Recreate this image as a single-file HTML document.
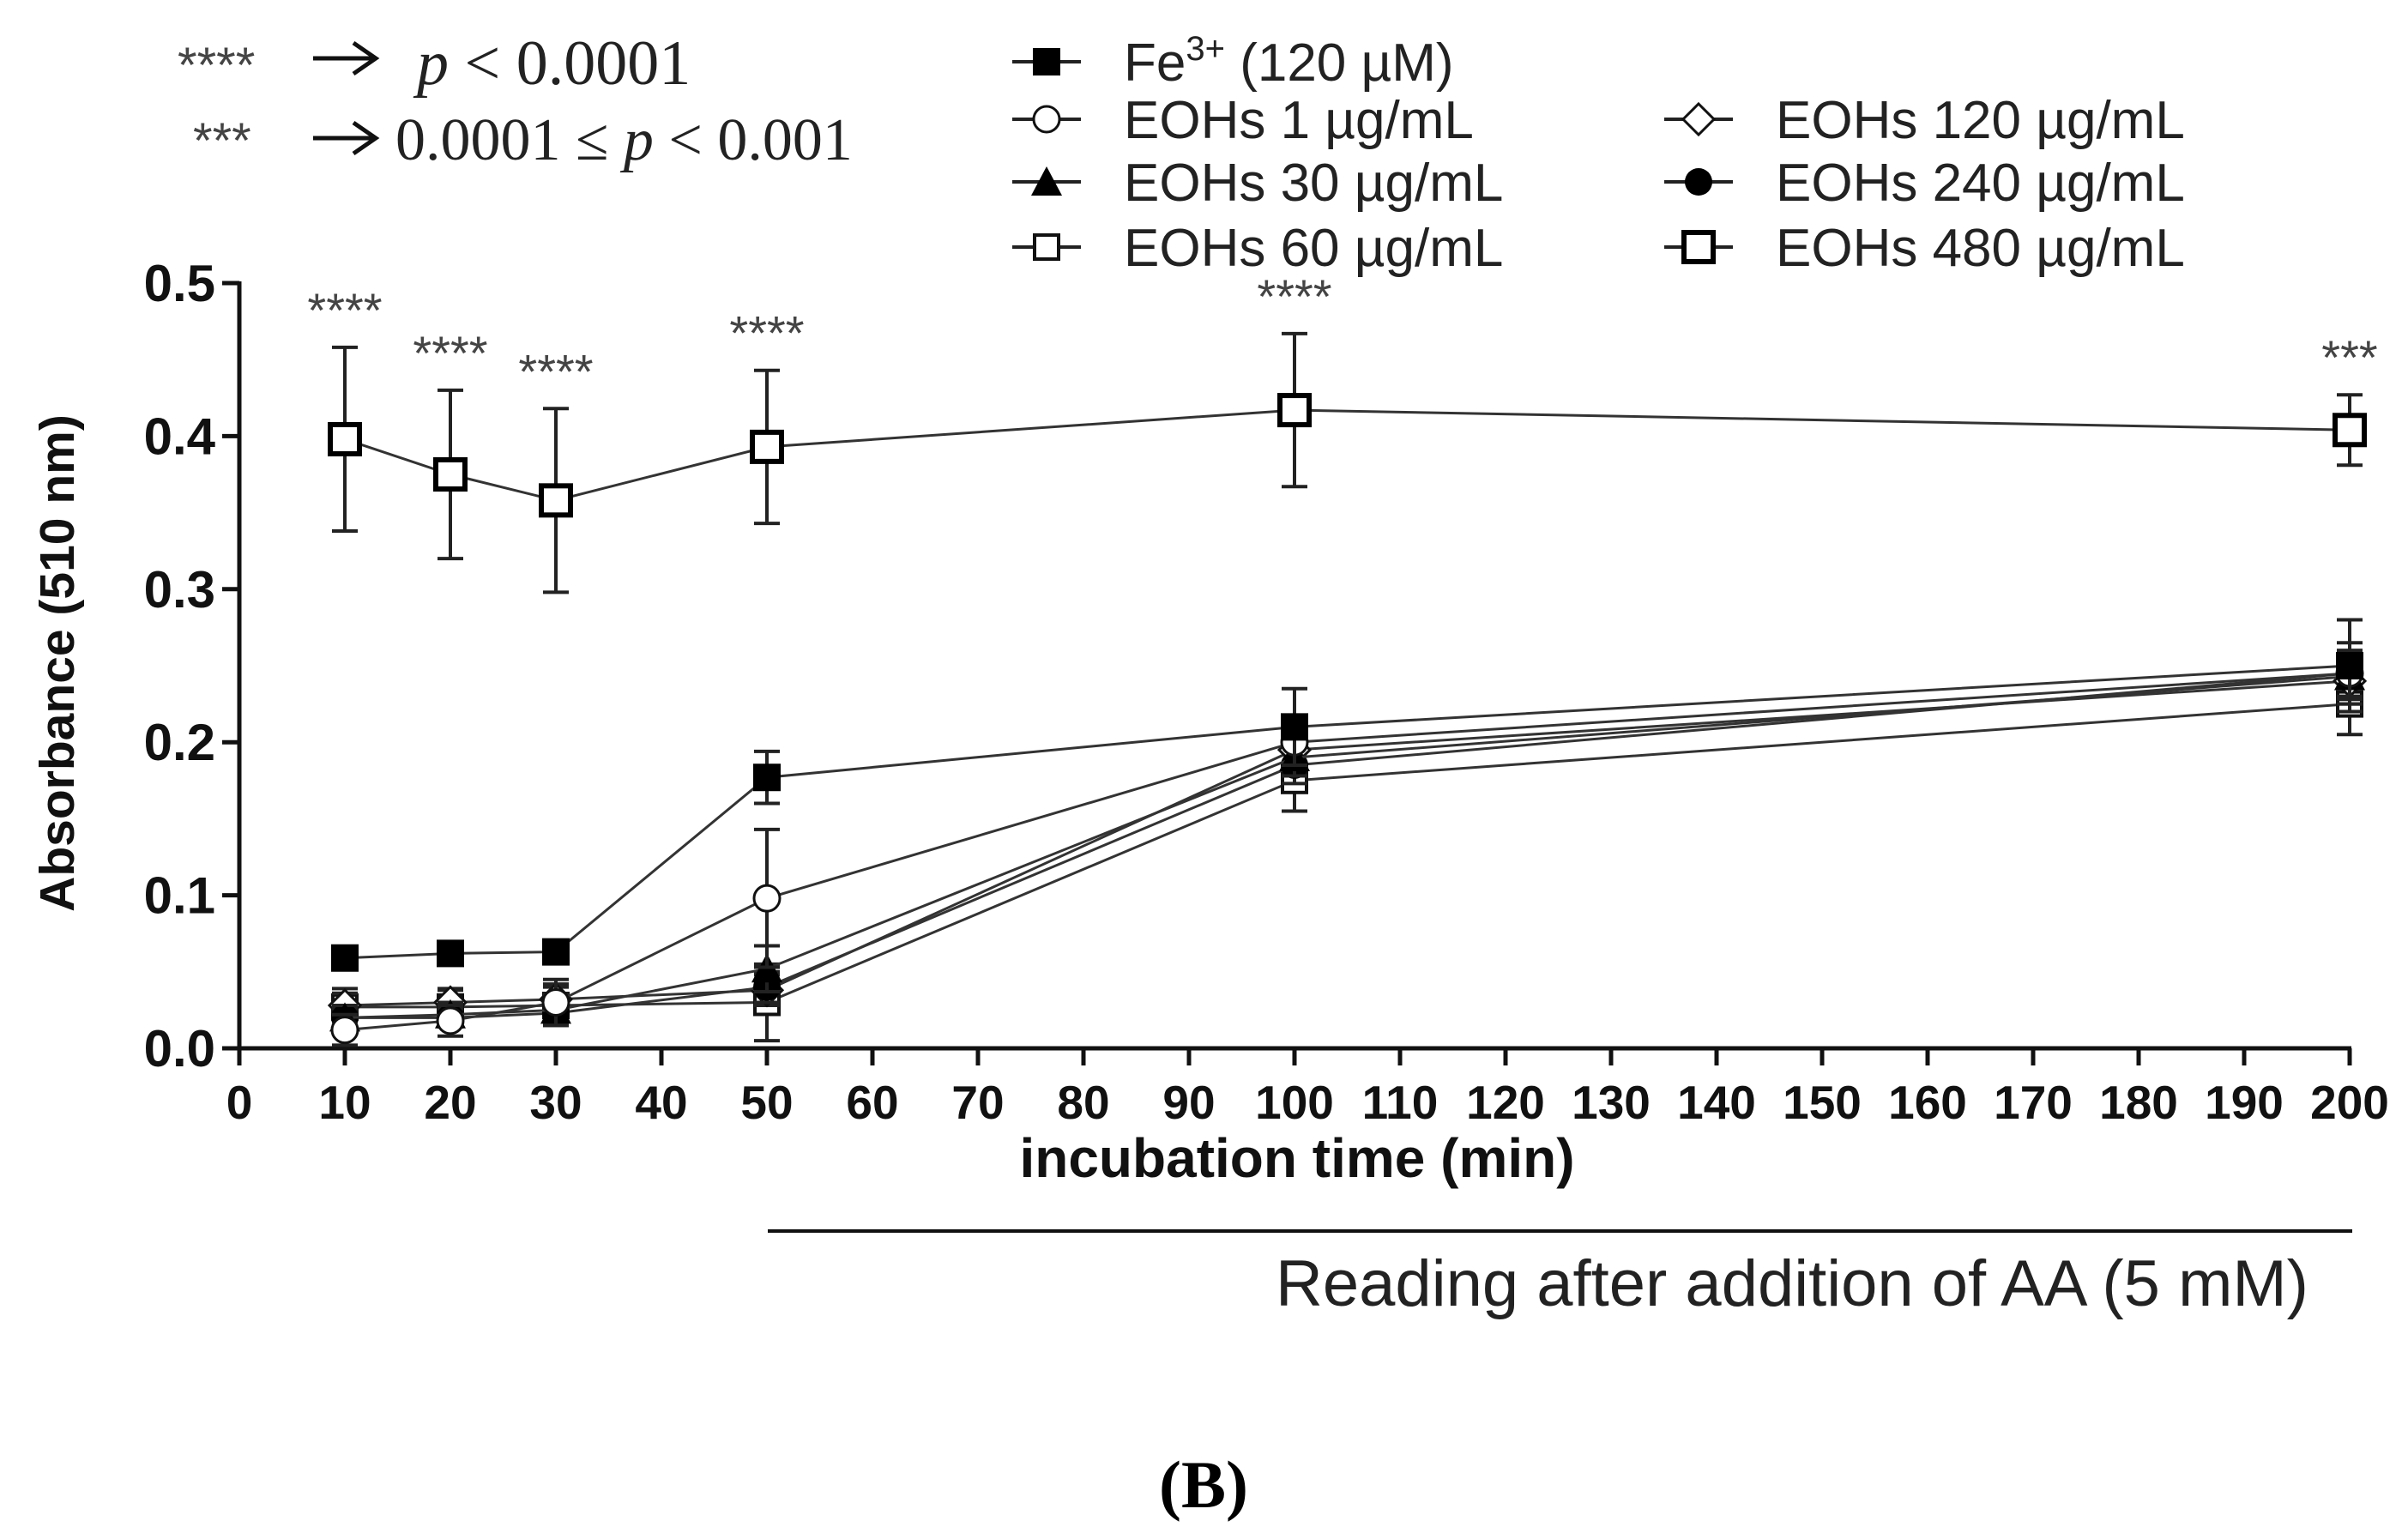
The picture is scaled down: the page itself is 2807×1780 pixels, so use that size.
<!DOCTYPE html>
<html><head><meta charset="utf-8"><style>
html,body{margin:0;padding:0;background:#fff;}
svg{display:block;}
</style></head><body>
<svg id="chart" width="2807" height="1780" viewBox="0 0 2807 1780" xmlns="http://www.w3.org/2000/svg" font-family="Liberation Sans, Arial, sans-serif">
<g id="annot" fill="#222">
  <text x="207" y="96" font-size="58" fill="#444">****</text>
  <path d="M365,68 H435 M412,50 L438,68 L412,86" stroke="#111" stroke-width="5" fill="none"/>
  <text x="486" y="98" font-family="Liberation Serif, serif" font-size="74"><tspan font-style="italic">p</tspan> &lt; 0.0001</text>
  <text x="225" y="184" font-size="58" fill="#444">***</text>
  <path d="M365,161 H435 M412,143 L438,161 L412,179" stroke="#111" stroke-width="5" fill="none"/>
  <text x="461" y="186" font-family="Liberation Serif, serif" font-size="70">0.0001 ≤ <tspan font-style="italic">p</tspan> &lt; 0.001</text>
</g>
<g id="legend"></g>
<g id="axes"></g>
<g id="series"></g>
<text x="1512" y="1372" text-anchor="middle" font-weight="bold" font-size="64" fill="#111">incubation time (min)</text>
<text transform="translate(86,773) rotate(-90)" text-anchor="middle" font-weight="bold" font-size="57" fill="#111">Absorbance (510 nm)</text>
<line x1="895" y1="1435" x2="2742" y2="1435" stroke="#111" stroke-width="4"/>
<text x="2691" y="1522" text-anchor="end" font-size="76" fill="#222">Reading after addition of AA (5 mM)</text>
<text x="1403" y="1757" text-anchor="middle" font-family="Liberation Serif, serif" font-weight="bold" font-size="78" fill="#000">(B)</text>
</svg>
<script>
const times = [10, 20, 30, 50, 100, 200];
const seriesNames = ["Fe3+ (120 µM)", "EOHs 1 µg/mL", "EOHs 30 µg/mL", "EOHs 60 µg/mL", "EOHs 120 µg/mL", "EOHs 240 µg/mL", "EOHs 480 µg/mL"];
const feVals   = [0.059, 0.062, 0.063, 0.177, 0.210, 0.250];
const eoh1     = [0.012, 0.018, 0.030, 0.098, 0.200, 0.245];
const eoh30    = [0.020, 0.022, 0.025, 0.052, 0.190, 0.243];
const eoh60    = [0.027, 0.027, 0.028, 0.030, 0.175, 0.225];
const eoh120   = [0.028, 0.030, 0.032, 0.038, 0.195, 0.240];
const eoh240   = [0.020, 0.020, 0.023, 0.040, 0.185, 0.245];
const eoh480   = [0.398, 0.375, 0.358, 0.393, 0.417, 0.404];
const feErr    = [0.004, 0.004, 0.004, 0.017, 0.025, 0.030];
const eoh1Err  = [0.010, 0.010, 0.015, 0.045, 0.015, 0.020];
const eoh30Err = [0.008, 0.008, 0.010, 0.015, 0.012, 0.015];
const eoh60Err = [0.012, 0.012, 0.012, 0.025, 0.020, 0.020];
const eoh120Err= [0.008, 0.008, 0.010, 0.010, 0.012, 0.015];
const eoh240Err= [0.006, 0.006, 0.008, 0.010, 0.012, 0.015];
const eoh480Err= [0.060, 0.055, 0.060, 0.050, 0.050, 0.023];
const sigLabels = ["****", "****", "****", "****", "****", "***"];
const xTicks = [0,10,20,30,40,50,60,70,80,90,100,110,120,130,140,150,160,170,180,190,200];
const yTicks = [0.0, 0.1, 0.2, 0.3, 0.4, 0.5];

const NS = "http://www.w3.org/2000/svg";
const X0 = 279, XPX = 12.3, Y0 = 1222, YPX = 1784;
function xs(t){ return X0 + t * XPX; }
function ys(v){ return Y0 - v * YPX; }
function mk(tag, attrs, parent){
  const e = document.createElementNS(NS, tag);
  for (const k in attrs) e.setAttribute(k, attrs[k]);
  parent.appendChild(e);
  return e;
}
const axes = document.getElementById('axes');
const yAxis = mk('line', {x1:xs(0), y1:ys(0)+2, x2:xs(0), y2:ys(0.5)-2, stroke:'#111','stroke-width':5}, axes);


const xAxis = mk('line', {x1:xs(0)-2, y1:ys(0), x2:xs(200)+2, y2:ys(0), stroke:'#111','stroke-width':5}, axes);


yTicks.forEach(v => {
  const tk = mk('line', {x1:xs(0)-20, y1:ys(v), x2:xs(0), y2:ys(v), stroke:'#111','stroke-width':5}, axes);
  
  
  const tl = mk('text', {x:xs(0)-28, y:ys(v)+21, 'text-anchor':'end', 'font-weight':'bold', 'font-size':60, fill:'#111'}, axes);
  tl.textContent = v.toFixed(1);
  
  
});
xTicks.forEach(t => {
  const tk = mk('line', {x1:xs(t), y1:ys(0), x2:xs(t), y2:ys(0)+20, stroke:'#111','stroke-width':5}, axes);
  
  
  const tl = mk('text', {x:xs(t), y:ys(0)+82, 'text-anchor':'middle', 'font-weight':'bold', 'font-size':55, fill:'#111'}, axes);
  tl.textContent = String(t);
  
  
});

function marker(type, cx, cy, g){
  const s = 16;
  let e;
  if (type === 'fsq') e = mk('rect', {x:cx-s, y:cy-s, width:2*s, height:2*s, fill:'#000'}, g);
  else if (type === 'osq') e = mk('rect', {x:cx-s+2, y:cy-s+2, width:2*s-4, height:2*s-4, fill:'#fff', stroke:'#111','stroke-width':4}, g);
  else if (type === 'bsq') e = mk('rect', {x:cx-s-1, y:cy-s-1, width:2*s+2, height:2*s+2, fill:'#fff', stroke:'#000','stroke-width':6}, g);
  else if (type === 'oc') e = mk('circle', {cx:cx, cy:cy, r:s-1, fill:'#fff', stroke:'#111','stroke-width':3}, g);
  else if (type === 'fc') e = mk('circle', {cx:cx, cy:cy, r:s, fill:'#000'}, g);
  else if (type === 'tri') e = mk('polygon', {points:`${cx},${cy-s-2} ${cx+s+2},${cy+s} ${cx-s-2},${cy+s}`, fill:'#000'}, g);
  else e = mk('polygon', {points:`${cx},${cy-s-2} ${cx+s+2},${cy} ${cx},${cy+s+2} ${cx-s-2},${cy}`, fill:'#fff', stroke:'#111','stroke-width':3}, g);
  
  
}

const seriesVals = [feVals, eoh1, eoh30, eoh60, eoh120, eoh240, eoh480];
const seriesErr = [feErr, eoh1Err, eoh30Err, eoh60Err, eoh120Err, eoh240Err, eoh480Err];
const markers = ['fsq','oc','tri','osq','dia','fc','bsq'];
const slugs = ['fe3','eohs-1','eohs-30','eohs-60','eohs-120','eohs-240','eohs-480'];
const sg = document.getElementById('series');
[3,4,5,2,1,0,6].forEach(i => {
  const g = mk('g', {}, sg);
  
  
  const vals = seriesVals[i], errs = seriesErr[i];
  const pts = times.map((t,j) => xs(t) + ',' + ys(vals[j])).join(' ');
  const ln = mk('polyline', {points:pts, fill:'none', stroke:'#333','stroke-width':3}, g);
  
  
  times.forEach((t,j) => {
    const x = xs(t), yt = ys(vals[j] + errs[j]), yb = ys(vals[j] - errs[j]);
    const eb = mk('path', {d:`M${x},${yt}V${yb}M${x-15},${yt}H${x+15}M${x-15},${yb}H${x+15}`, stroke:'#222', 'stroke-width':4, fill:'none'}, g);
    
    
  });
  times.forEach((t,j) => marker(markers[i], xs(t), ys(vals[j]), g));
});
times.forEach((t,j) => {
  const st = mk('text', {x:xs(t), y:ys(eoh480[j] + eoh480Err[j]) - 24, 'text-anchor':'middle', 'font-size':56, fill:'#444'}, sg);
  st.textContent = sigLabels[j];
  
  
});

const lg = document.getElementById('legend');
const legPos = [[1220,72],[1220,139],[1220,212],[1220,288],[1980,139],[1980,212],[1980,288]];
seriesNames.forEach((n,i) => {
  const g = mk('g', {}, lg);
  
  
  const [x,y] = legPos[i];
  const ll = mk('line', {x1:x-40, y1:y, x2:x+40, y2:y, stroke:'#222','stroke-width':4}, g);
  
  
  marker(markers[i], x, y, g);
  const tx = mk('text', {x:x+90, y:y+22, 'font-size':62, fill:'#222'}, g);
  if (i === 0) {
    tx.innerHTML = 'Fe<tspan dy="-24" font-size="40">3+</tspan><tspan dy="24"> (120 µM)</tspan>';
  } else {
    tx.textContent = n;
  }
  
  
});
</script>
</body></html>
